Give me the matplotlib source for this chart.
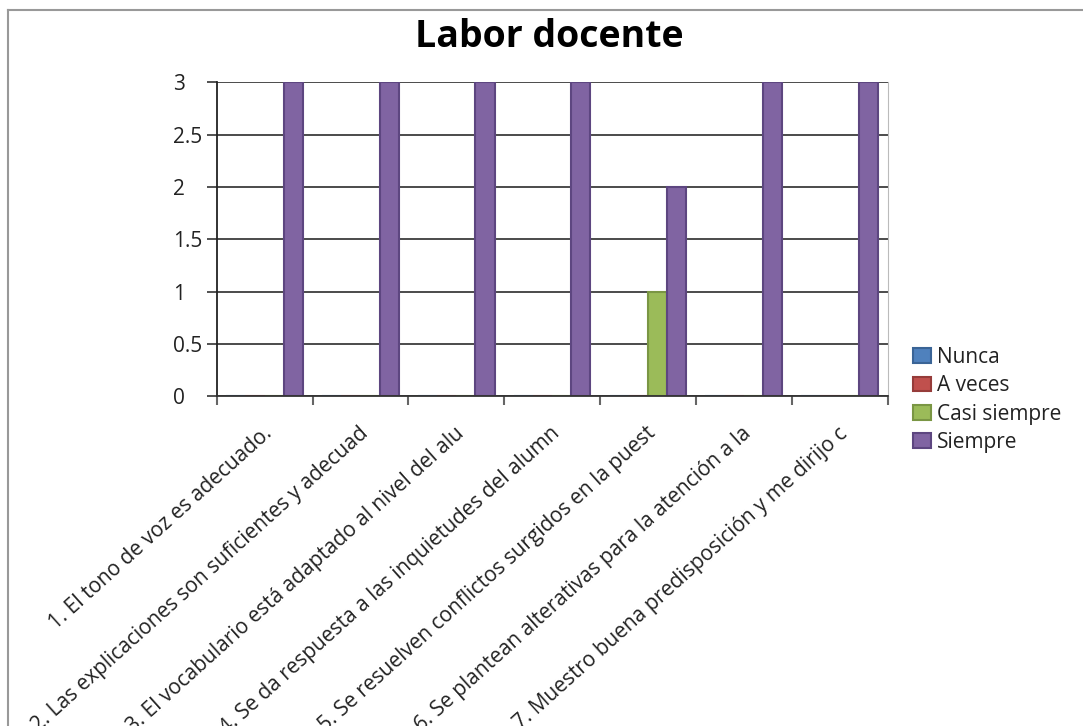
import matplotlib
matplotlib.use("Agg")
import matplotlib.pyplot as plt
import matplotlib.transforms as mtransforms
from matplotlib.lines import Line2D
import numpy as np

plt.rcParams["font.family"] = ["Open Sans", "DejaVu Sans"]

# data
categories = [
    "1. El tono de voz es adecuado.",
    "2. Las explicaciones son suficientes y adecuad",
    "3. El vocabulario está adaptado al nivel del alu",
    "4. Se da respuesta a las inquietudes del alumn",
    "5. Se resuelven conflictos surgidos en la puest",
    "6. Se plantean alterativas para la atención a la",
    "7. Muestro buena predisposición y me dirijo c",
]
series_names = ["Nunca", "A veces", "Casi siempre", "Siempre"]
nunca = [0, 0, 0, 0, 0, 0, 0]
a_veces = [0, 0, 0, 0, 0, 0, 0]
casi_siempre = [0, 0, 0, 0, 1, 0, 0]
siempre = [3, 3, 3, 3, 2, 3, 3]
y_ticks = [0, 0.5, 1, 1.5, 2, 2.5, 3]
y_tick_labels = ["0", "0.5", "1", "1.5", "2", "2.5", "3"]

colors = ["#4F81BD", "#C0504D", "#9BBB59", "#8064A2"]
edges = ["#3a6496", "#963c3a", "#7a9644", "#5d4680"]

fig = plt.figure(figsize=(10.83, 7.26), dpi=100)
ax = fig.add_axes([0.2001, 0.4545, 0.6194, 0.4319])

x = np.arange(len(categories))
width = 0.2
values = [nunca, a_veces, casi_siempre, siempre]
for i, (vals, name) in enumerate(zip(values, series_names)):
    ax.bar(x + (i - 1.5) * width, vals, width, color=colors[i],
           edgecolor=edges[i], linewidth=1.5, label=name, zorder=2)

ax.set_xlim(-0.5, len(categories) - 0.5)
ax.set_ylim(0, 3)
ax.set_axisbelow(True)

# y axis
ax.set_yticks(y_ticks)
ax.set_yticklabels(y_tick_labels, ha="left")
ax.tick_params(axis="y", length=7, width=1.2, color="#333333",
               labelsize=15, labelcolor="#222222", pad=24.5)
ax.yaxis.grid(True, color="#1a1a1a", linewidth=1.1)

# x axis: marks at category boundaries, labels at centers
ax.set_xticks(np.arange(len(categories) + 1) - 0.5)
ax.set_xticklabels([])
ax.tick_params(axis="x", which="major", length=6.5, width=1.5, color="#666666")
ax.set_xticks(x, minor=True)
ax.set_xticklabels(categories, minor=True, rotation=42, ha="right",
                   va="center", rotation_mode="anchor", fontsize=15,
                   color="#222222")
ax.tick_params(axis="x", which="minor", length=0, pad=25)
offset = mtransforms.ScaledTranslation(5 / 100, 0, fig.dpi_scale_trans)
for lab in ax.get_xticklabels(minor=True):
    lab.set_transform(lab.get_transform() + offset)

ax.spines["top"].set_visible(False)
ax.spines["right"].set_color("#bbbbbb")
ax.spines["left"].set_color("#222222")
ax.spines["left"].set_linewidth(1.3)
ax.spines["bottom"].set_color("#333333")
ax.spines["bottom"].set_linewidth(1.3)

fig.text(0.507, 1 - 37 / 726, "Labor docente", ha="center", va="center",
         fontsize=27, fontweight="bold", color="black")

fig.legend(loc="upper left", bbox_to_anchor=(913 / 1083, 1 - 347 / 726),
           frameon=False, fontsize=15, handlelength=0.87, handleheight=0.72,
           handletextpad=0.3, labelspacing=0.35, borderpad=0,
           borderaxespad=0, labelcolor="#222222")

# outer chart frame (top and left edges visible in the crop)
fig.add_artist(Line2D([8 / 1083, 1], [1 - 10 / 726, 1 - 10 / 726],
                      transform=fig.transFigure, color="#999999", linewidth=1.5))
fig.add_artist(Line2D([8 / 1083, 8 / 1083], [0, 1 - 10 / 726],
                      transform=fig.transFigure, color="#999999", linewidth=1.5))

fig.savefig("out.png", dpi=100)
